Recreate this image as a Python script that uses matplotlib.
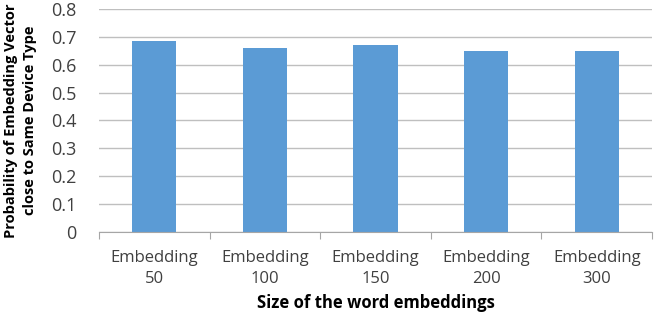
import matplotlib
matplotlib.use('Agg')
import matplotlib.pyplot as plt

categories = ['Embedding\n50', 'Embedding\n100', 'Embedding\n150', 'Embedding\n200', 'Embedding\n300']
values = [0.686, 0.661, 0.672, 0.650, 0.650]
y_ticks = [0, 0.1, 0.2, 0.3, 0.4, 0.5, 0.6, 0.7, 0.8]
y_tick_labels = ['0', '0.1', '0.2', '0.3', '0.4', '0.5', '0.6', '0.7', '0.8']

plt.rcParams['font.family'] = ['Open Sans', 'DejaVu Sans']

fig = plt.figure(figsize=(6.56, 3.17), dpi=100)
ax = fig.add_axes([0.151, 0.268, 0.843, 0.704])

x = list(range(len(categories)))
ax.bar(x, values, width=0.4, color='#5B9BD5', zorder=3)

ax.set_xlim(-0.5, len(categories) - 0.5)
ax.set_ylim(0, 0.8)
ax.set_yticks(y_ticks)
ax.set_yticklabels(y_tick_labels, fontsize=13, color='#404040')
ax.yaxis.grid(True, color='#BFBFBF', linewidth=1, zorder=0)
ax.tick_params(axis='y', length=0, pad=16)

ax.set_xticks([i - 0.5 for i in range(len(categories) + 1)], minor=False)
ax.set_xticklabels([])
ax.set_xticks(x, minor=True)
ax.set_xticklabels(categories, minor=True, fontsize=12, color='#404040', linespacing=1.4)
ax.tick_params(axis='x', which='major', length=5, color='#A6A6A6', direction='out')
ax.tick_params(axis='x', which='minor', length=0, pad=13)

for side in ['top', 'right', 'left']:
    ax.spines[side].set_visible(False)
ax.spines['bottom'].set_color('#A6A6A6')
ax.spines['bottom'].set_zorder(4)

ax.set_xlabel('Size of the word embeddings', fontsize=12, fontweight='bold', labelpad=5)
ax.set_ylabel('Probability of Embedding Vector\nclose to Same Device Type', fontsize=10.5,
              fontweight='bold', labelpad=10, linespacing=1.5)

plt.savefig('out.png', dpi=100)
plt.close()
